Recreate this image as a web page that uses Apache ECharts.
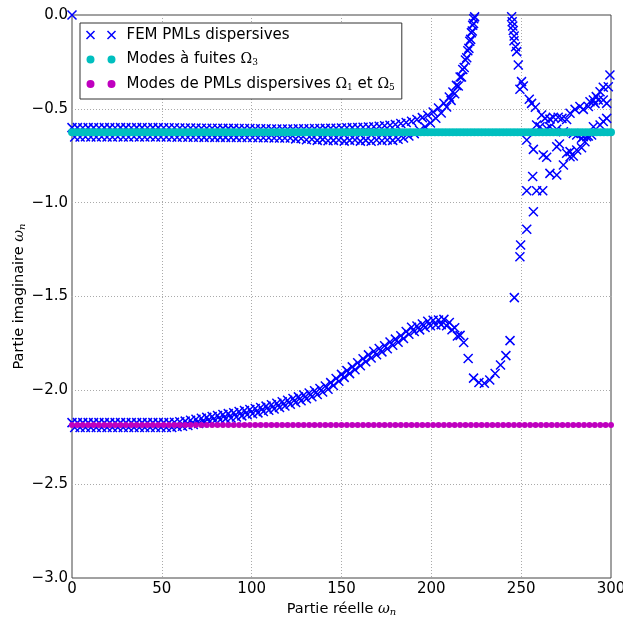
<!DOCTYPE html>
<html>
<head>
<meta charset="utf-8">
<script src="https://cdn.jsdelivr.net/npm/echarts@6/dist/echarts.min.js"></script>
<style>
html,body{margin:0;padding:0;background:#fff;}
#chart{width:623px;height:622px;}
</style>
</head>
<body>
<div id="chart"></div>
<script>
// ---------- data ----------
const xTicks = [0, 50, 100, 150, 200, 250, 300];
const yTicks = [-3.0, -2.5, -2.0, -1.5, -1.0, -0.5, 0.0];

const seriesNames = ['FEM PMLs dispersives', 'Modes à fuites Ω3', 'Modes de PMLs dispersives Ω1 et Ω5'];

// leaky modes (cyan): constant imaginary part
const leakyModeX = [0,2,4,6,8,10,12,14,16,18,20,22,24,26,28,30,32,34,36,38,40,42,44,46,48,50,52,54,56,58,60,62,64,66,68,70,72,74,76,78,80,82,84,86,88,90,92,94,96,98,100,102,104,106,108,110,112,114,116,118,120,122,124,126,128,130,132,134,136,138,140,142,144,146,148,150,152,154,156,158,160,162,164,166,168,170,172,174,176,178,180,182,184,186,188,190,192,194,196,198,200,202,204,206,208,210,212,214,216,218,220,222,224,226,228,230,232,234,236,238,240,242,244,246,248,250,252,254,256,258,260,262,264,266,268,270,272,274,276,278,280,282,284,286,288,290,292,294,296,298,300];
const leakyModeY = -0.625;

// dispersive PML modes (magenta): constant imaginary part
const pmlModeX = [0,3,6,9,12,15,18,21,24,27,30,33,36,39,42,45,48,51,54,57,60,63,66,69,72,75,78,81,84,87,90,93,96,99,102,105,108,111,114,117,120,123,126,129,132,135,138,141,144,147,150,153,156,159,162,165,168,171,174,177,180,183,186,189,192,195,198,201,204,207,210,213,216,219,222,225,228,231,234,237,240,243,246,249,252,255,258,261,264,267,270,273,276,279,282,285,288,291,294,297,300];
const pmlModeY = -2.185;

// FEM eigenvalues (blue crosses)
const femOrigin = [[0, 0]];
const femBandUpper = [[0,-0.600],[3,-0.600],[6,-0.601],[9,-0.600],[12,-0.600],[15,-0.601],[18,-0.600],[21,-0.600],[24,-0.601],[27,-0.600],[30,-0.600],[33,-0.601],[36,-0.600],[39,-0.600],[42,-0.601],[45,-0.600],[48,-0.600],[51,-0.601],[54,-0.601],[57,-0.601],[60,-0.602],[63,-0.602],[66,-0.602],[69,-0.602],[72,-0.603],[75,-0.603],[78,-0.603],[81,-0.603],[84,-0.604],[87,-0.604],[90,-0.604],[93,-0.605],[96,-0.605],[99,-0.605],[102,-0.606],[105,-0.606],[108,-0.606],[111,-0.607],[114,-0.607],[117,-0.607],[120,-0.607],[123,-0.607],[126,-0.606],[129,-0.606],[132,-0.606],[135,-0.605],[138,-0.605],[141,-0.604],[144,-0.603],[147,-0.603],[150,-0.602],[153,-0.601],[156,-0.600],[159,-0.599],[162,-0.598],[165,-0.597],[168,-0.595],[171,-0.593],[174,-0.590],[177,-0.587],[180,-0.583],[183,-0.578],[186,-0.573],[189,-0.566],[192,-0.557],[195,-0.547],[198,-0.534],[201,-0.517],[204,-0.496],[207,-0.470],[210,-0.437],[212,-0.410],[214,-0.375],[216,-0.330],[217.5,-0.290],[219,-0.240],[220.3,-0.190],[221.4,-0.140],[222.3,-0.095],[223,-0.055],[223.6,-0.020]];
const femBandLower = [[1.5,-0.650],[4.5,-0.650],[7.5,-0.649],[10.5,-0.650],[13.5,-0.650],[16.5,-0.649],[19.5,-0.650],[22.5,-0.650],[25.5,-0.649],[28.5,-0.650],[31.5,-0.650],[34.5,-0.649],[37.5,-0.650],[40.5,-0.650],[43.5,-0.649],[46.5,-0.650],[49.5,-0.650],[52.5,-0.650],[55.5,-0.650],[58.5,-0.651],[61.5,-0.650],[64.5,-0.651],[67.5,-0.651],[70.5,-0.651],[73.5,-0.652],[76.5,-0.651],[79.5,-0.652],[82.5,-0.652],[85.5,-0.652],[88.5,-0.653],[91.5,-0.652],[94.5,-0.653],[97.5,-0.653],[100.5,-0.653],[103.5,-0.654],[106.5,-0.654],[109.5,-0.654],[112.5,-0.655],[115.5,-0.655],[118.5,-0.655],[121.5,-0.655],[124.5,-0.660],[127.5,-0.658],[130.5,-0.665],[133.5,-0.662],[136.5,-0.668],[139.5,-0.664],[142.5,-0.670],[145.5,-0.668],[148.5,-0.666],[151.5,-0.672],[154.5,-0.668],[157.5,-0.666],[160.5,-0.672],[163.5,-0.668],[166.5,-0.673],[169.5,-0.666],[172.5,-0.670],[175.5,-0.666],[178.5,-0.668],[181.5,-0.662],[184.5,-0.655],[187.5,-0.645],[190.5,-0.632],[193.5,-0.614],[196.5,-0.596],[199.5,-0.575],[202.5,-0.550],[205.5,-0.522],[208.5,-0.490],[211,-0.455],[213,-0.420],[215,-0.378],[216.8,-0.330],[218.3,-0.280],[219.7,-0.228],[220.9,-0.178],[221.9,-0.130],[222.8,-0.085],[223.5,-0.045],[224.1,-0.010]];
const femLowUpper = [[0,-2.172],[3,-2.172],[6,-2.172],[9,-2.172],[12,-2.172],[15,-2.172],[18,-2.172],[21,-2.172],[24,-2.172],[27,-2.172],[30,-2.172],[33,-2.172],[36,-2.172],[39,-2.172],[42,-2.172],[45,-2.172],[48,-2.172],[51,-2.172],[54,-2.172],[57,-2.170],[60,-2.167],[63,-2.164],[66,-2.159],[69,-2.154],[72,-2.149],[75,-2.144],[78,-2.139],[81,-2.134],[84,-2.129],[87,-2.124],[90,-2.119],[93,-2.113],[96,-2.107],[99,-2.102],[102,-2.097],[105,-2.091],[108,-2.084],[111,-2.077],[114,-2.069],[117,-2.061],[120,-2.053],[123,-2.044],[126,-2.035],[129,-2.025],[132,-2.014],[135,-2.002],[138,-1.990],[141,-1.977],[144,-1.959],[147,-1.937],[150,-1.915],[153,-1.895],[156,-1.875],[159,-1.853],[162,-1.832],[165,-1.811],[168,-1.792],[171,-1.777],[174,-1.762],[177,-1.742],[180,-1.727],[183,-1.709],[186,-1.687],[189,-1.664],[192,-1.657],[195,-1.647],[198,-1.632],[201,-1.627],[204,-1.625],[207,-1.622],[210,-1.639],[213,-1.667],[216,-1.707]];
const femLowLower = [[1.5,-2.198],[4.5,-2.198],[7.5,-2.198],[10.5,-2.198],[13.5,-2.198],[16.5,-2.198],[19.5,-2.198],[22.5,-2.198],[25.5,-2.198],[28.5,-2.198],[31.5,-2.198],[34.5,-2.198],[37.5,-2.198],[40.5,-2.198],[43.5,-2.198],[46.5,-2.198],[49.5,-2.198],[52.5,-2.198],[55.5,-2.198],[58.5,-2.194],[61.5,-2.191],[64.5,-2.187],[67.5,-2.182],[70.5,-2.177],[73.5,-2.172],[76.5,-2.167],[79.5,-2.162],[82.5,-2.157],[85.5,-2.152],[88.5,-2.147],[91.5,-2.142],[94.5,-2.136],[97.5,-2.130],[100.5,-2.125],[103.5,-2.120],[106.5,-2.113],[109.5,-2.106],[112.5,-2.099],[115.5,-2.091],[118.5,-2.083],[121.5,-2.074],[124.5,-2.065],[127.5,-2.056],[130.5,-2.045],[133.5,-2.034],[136.5,-2.022],[139.5,-2.009],[142.5,-1.994],[145.5,-1.974],[148.5,-1.952],[151.5,-1.931],[154.5,-1.911],[157.5,-1.890],[160.5,-1.869],[163.5,-1.848],[166.5,-1.828],[169.5,-1.810],[172.5,-1.795],[175.5,-1.778],[178.5,-1.760],[181.5,-1.744],[184.5,-1.724],[187.5,-1.701],[190.5,-1.686],[193.5,-1.678],[196.5,-1.665],[199.5,-1.656],[202.5,-1.652],[205.5,-1.650],[208.5,-1.656],[211.5,-1.677],[214.5,-1.710]];
const femLowDip = [[218,-1.745],[220.5,-1.830],[223.5,-1.935],[226.5,-1.958],[229.5,-1.962],[232.5,-1.945],[235.5,-1.910],[238.5,-1.865],[241.5,-1.815],[243.8,-1.735]];
const femRightTail = [[244.7,-0.009],[245.0,-0.036],[245.3,-0.059],[245.6,-0.083],[246.1,-0.112],[246.0,-0.137],[246.9,-0.169],[247.5,-0.195],[248.4,-0.266],[250.2,-0.355],[251.2,-0.378],[249.3,-0.396],
  [254.5,-0.449],[255.8,-0.471],[257.9,-0.492],[261.4,-0.533],[263.3,-0.551],[266.0,-0.555],[267.9,-0.545],[270.6,-0.545],[272.7,-0.551],[275.3,-0.557],[277.2,-0.524],[280.0,-0.503],[282.7,-0.488],[284.6,-0.503],[287.4,-0.488],[290.2,-0.453],[291.1,-0.471],[292.9,-0.453],[295.7,-0.453],[297.6,-0.471],[298.5,-0.382],[299.4,-0.320],[295.7,-0.385],[293.9,-0.409],[291.8,-0.435],[288.3,-0.462],
  [258.6,-0.586],[260.5,-0.595],[264.2,-0.605],[266.0,-0.595],[269.8,-0.609],[273.5,-0.622],[279.0,-0.631],[280.9,-0.639],[283.6,-0.657],[284.6,-0.648],[287.4,-0.645],[290.2,-0.595],[293.9,-0.586],[295.7,-0.568],[297.6,-0.551],
  [253.1,-0.666],[256.8,-0.716],[262.3,-0.746],[264.2,-0.758],[269.8,-0.702],[271.3,-0.687],[275.3,-0.737],[277.2,-0.728],[279.0,-0.751],[283.6,-0.707],[286.5,-0.648],
  [256.4,-0.861],[253.1,-0.936],[258.6,-0.936],[262.0,-0.936],[266.0,-0.844],[269.8,-0.853],[273.5,-0.799],[277.2,-0.755],[280.9,-0.719],[285.5,-0.675],[289.2,-0.639],
  [256.8,-1.048],[253.1,-1.142],[249.7,-1.226],[249.3,-1.288],[246.2,-1.506]];

// ---------- chart ----------
const femData = [].concat(femOrigin, femBandUpper, femBandLower, femLowUpper, femLowLower, femLowDip, femRightTail);
const leakyData = leakyModeX.map(x => [x, leakyModeY]);
const pmlData = pmlModeX.map(x => [x, pmlModeY]);

const BLUE = '#0000ff', CYAN = '#00bfbf', MAGENTA = '#bf00bf';
const crossPath = 'path://M0,0L1,1M1,0L0,1';
const legendCross = 'path://M0,0L8,8M8,0L0,8M21,0L29,8M29,0L21,8';
const legendDots = 'path://M0,4A4,4,0,1,1,8,4A4,4,0,1,1,0,4ZM21,4A4,4,0,1,1,29,4A4,4,0,1,1,21,4Z';

const SANS = 'DejaVu Sans';
const SERIF = 'DejaVu Serif';

function fmtY(v) {
  if (Math.abs(v) < 1e-9) return '0.0';
  return v.toFixed(1).replace('-', '\u2212');
}

const nameRich = {
  a: {fontFamily: SANS, fontSize: 14.5, color: '#000'},
  w: {fontFamily: SERIF, fontStyle: 'italic', fontSize: 14.5, color: '#000'},
  s: {fontFamily: SERIF, fontStyle: 'italic', fontSize: 10, color: '#000', padding: [6, 0, 0, 0]}
};

const chart = echarts.init(document.getElementById('chart'), null, {renderer: 'canvas'});
chart.setOption({
  animation: false,
  backgroundColor: '#ffffff',
  grid: {left: 72, right: 12, top: 15, bottom: 44, show: true, borderColor: '#444', borderWidth: 1,
    backgroundColor: 'transparent', containLabel: false, outerBoundsMode: 'none'},
  xAxis: {
    type: 'value', min: xTicks[0], max: xTicks[xTicks.length - 1], interval: 50,
    axisLine: {show: false}, axisTick: {show: false},
    splitLine: {show: true, showMinLine: false, showMaxLine: false, lineStyle: {color: '#aaaaaa', type: [1, 2], width: 1}},
    axisLabel: {fontFamily: SANS, fontSize: 15, color: '#000', margin: 4, showMaxLabel: true, showMinLabel: true},
    name: '{a|Partie réelle }{w|ω}{s|n}', nameLocation: 'middle', nameGap: 23, nameMoveOverlap: false,
    nameTextStyle: {fontFamily: SANS, fontSize: 14.5, color: '#000', rich: nameRich}
  },
  yAxis: {
    type: 'value', min: yTicks[0], max: yTicks[yTicks.length - 1], interval: 0.5,
    axisLine: {show: false}, axisTick: {show: false},
    splitLine: {show: true, showMinLine: false, showMaxLine: false, lineStyle: {color: '#aaaaaa', type: [1, 2], width: 1}},
    axisLabel: {fontFamily: SANS, fontSize: 15, color: '#000', margin: 4, formatter: fmtY},
    name: '{a|Partie imaginaire }{w|ω}{s|n}', nameLocation: 'middle', nameGap: 45, nameRotate: 90, nameMoveOverlap: false,
    nameTextStyle: {fontFamily: SANS, fontSize: 14.5, color: '#000', rich: nameRich}
  },
  legend: {
    orient: 'vertical', left: 80, top: 23,
    padding: [2, 7, 5, 4],
    itemWidth: 29, itemHeight: 8, itemGap: 4.5,
    backgroundColor: '#ffffff', borderColor: '#333', borderWidth: 1, borderRadius: 0,
    selectedMode: false,
    data: [
      {name: seriesNames[0], icon: legendCross, itemStyle: {color: 'none', borderColor: BLUE, borderWidth: 1.5, opacity: 1}},
      {name: seriesNames[1], icon: legendDots, itemStyle: {color: CYAN, borderWidth: 0, opacity: 1}},
      {name: seriesNames[2], icon: legendDots, itemStyle: {color: MAGENTA, borderWidth: 0, opacity: 1}}
    ],
    formatter: function (name) {
      if (name === seriesNames[0]) return '{g| }{t|FEM PMLs dispersives}';
      if (name === seriesNames[1]) return '{g| }{t|Modes à fuites }{o|Ω}{s|3}';
      return '{g| }{t|Modes de PMLs dispersives }{o|Ω}{s|1}{t| et }{o|Ω}{s|5}';
    },
    textStyle: {fontFamily: SANS, fontSize: 15, color: '#000', lineHeight: 20,
      rich: {
        g: {width: 6, fontSize: 15, lineHeight: 20},
        t: {fontFamily: SANS, fontSize: 15, color: '#000', lineHeight: 20},
        o: {fontFamily: SERIF, fontSize: 14, color: '#000', lineHeight: 20},
        s: {fontFamily: SERIF, fontSize: 9, color: '#000', padding: [7, 0, 0, 0]}
      }}
  },
  series: [
    {name: seriesNames[0], type: 'scatter', data: femData, symbol: crossPath, symbolSize: 9,
      itemStyle: {color: 'none', borderColor: BLUE, borderWidth: 1.5, opacity: 1}, clip: true, z: 2},
    {name: seriesNames[1], type: 'scatter', data: leakyData, symbol: 'circle', symbolSize: 8,
      itemStyle: {color: CYAN, borderWidth: 0, opacity: 1}, clip: true, z: 3},
    {name: seriesNames[2], type: 'scatter', data: pmlData, symbol: 'circle', symbolSize: 6,
      itemStyle: {color: MAGENTA, borderWidth: 0, opacity: 1}, clip: true, z: 4}
  ]
});
</script>
</body>
</html>
